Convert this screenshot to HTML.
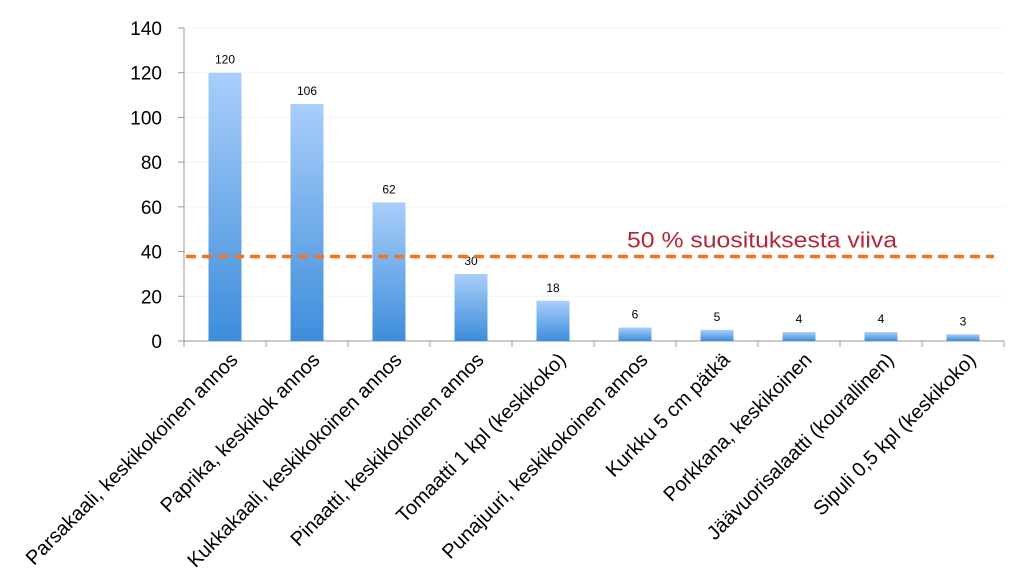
<!DOCTYPE html>
<html><head><meta charset="utf-8"><style>
body{margin:0;background:#fff;width:1024px;height:583px;overflow:hidden}
text{font-family:"Liberation Sans",sans-serif}
</style></head><body>
<svg id="chart" width="1024" height="583" xmlns="http://www.w3.org/2000/svg">
<defs><linearGradient id="g" x1="0" y1="0" x2="0" y2="1"><stop offset="0" stop-color="#a9cefa"/><stop offset="1" stop-color="#3d8ddb"/></linearGradient></defs>
</svg>
<script>
const categories=["Parsakaali, keskikokoinen annos","Paprika, keskikok annos","Kukkakaali, keskikokoinen annos","Pinaatti, keskikokoinen annos","Tomaatti 1 kpl (keskikoko)","Punajuuri, keskikokoinen annos","Kurkku 5 cm pätkä","Porkkana, keskikoinen","Jäävuorisalaatti (kourallinen)","Sipuli 0,5 kpl (keskikoko)"];
const values=[120,106,62,30,18,6,5,4,4,3];
const yTicks=[0,20,40,60,80,100,120,140];
const refValue=37.8;
const refLabel="50 % suosituksesta viiva";
const svg=document.getElementById('chart');
const NS="http://www.w3.org/2000/svg";
const x0=184,band=82,yBase=341,yTop=28;
const y=v=>yBase-(v/140)*(yBase-yTop);
const xc=i=>x0+band*(i+0.5);
function mk(t,a,txt){const e=document.createElementNS(NS,t);for(const k in a)e.setAttribute(k,a[k]);if(txt!=null)e.textContent=txt;svg.appendChild(e);return e;}
yTicks.forEach(v=>{
 if(v>0){const gl=mk('line',{x1:x0,x2:x0+band*10,y1:y(v),y2:y(v),stroke:'#f4f4f4'});
 
 }
 const t=mk('line',{x1:x0-6,x2:x0,y1:y(v),y2:y(v),stroke:'#999'});
 
 
 const l=mk('text',{x:x0-22,y:y(v)+7,'text-anchor':'end','font-size':19,fill:'#000'},v);
 
 
});
const ya=mk('line',{x1:x0,x2:x0,y1:yTop,y2:yBase,stroke:'#999'});


const xa=mk('line',{x1:x0,x2:x0+band*10,y1:yBase,y2:yBase,stroke:'#999'});


for(let i=0;i<=10;i++){const t=mk('line',{x1:x0+band*i,x2:x0+band*i,y1:yBase,y2:yBase+6,stroke:'#999'});
 
 }
values.forEach((v,i)=>{
 const b=mk('rect',{x:xc(i)-16.5,y:y(v),width:33,height:yBase-y(v),fill:'url(#g)'});
 
 
 const vl=mk('text',{x:xc(i),y:y(v)-9,'text-anchor':'middle','font-size':12,fill:'#000'},v);
 
 
 const cx=xc(i)+14,cy=yBase+20;
 const cl=mk('text',{x:cx,y:cy,'text-anchor':'end','font-size':20,fill:'#000',transform:`rotate(-45 ${cx} ${cy})`},categories[i]);
 
 
});
const rl=mk('line',{x1:x0+2,x2:994,y1:y(refValue),y2:y(refValue),stroke:'#f5731f','stroke-width':3.5,'stroke-dasharray':'10 6'});


const rt=mk('text',{x:627,y:y(refValue)-9,'font-size':22,fill:'#b3263d',textLength:270,lengthAdjust:'spacingAndGlyphs'},refLabel);


</script>
</body></html>
